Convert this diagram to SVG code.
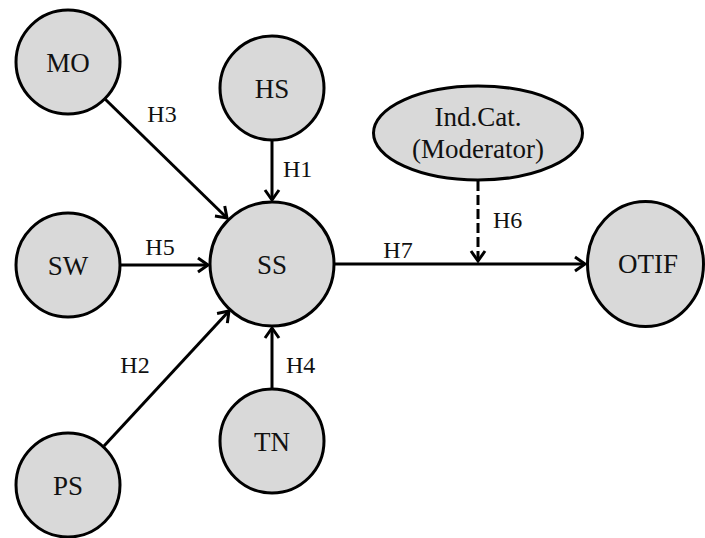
<svg xmlns="http://www.w3.org/2000/svg" width="705" height="538" viewBox="0 0 705 538">
<style>
.node{fill:#d9d9d9;stroke:#000;stroke-width:3}
.nt{font-size:27px;fill:#111;text-anchor:middle}
.et{font-size:24px;fill:#111}
.edge{stroke:#000;stroke-width:3;fill:none}
.dash{stroke-dasharray:10 4}
</style>
<defs>
<marker id="ah" viewBox="-12 -9 14 18" refX="0" refY="0" markerWidth="14" markerHeight="18" markerUnits="userSpaceOnUse" orient="auto" overflow="visible">
<path d="M-10,-7 L0,0 L-10,7" fill="none" stroke="#000" stroke-width="3"/>
</marker>
</defs>
<rect width="705" height="538" fill="#fff"/>
<g id="connectors">
<line class="edge" x1="105" y1="99" x2="227" y2="218" marker-end="url(#ah)"/>
<line class="edge" x1="272" y1="140" x2="272" y2="200" marker-end="url(#ah)"/>
<line class="edge" x1="120" y1="265" x2="208" y2="265" marker-end="url(#ah)"/>
<line class="edge" x1="104" y1="446" x2="229" y2="311" marker-end="url(#ah)"/>
<line class="edge" x1="272" y1="389" x2="272" y2="328" marker-end="url(#ah)"/>
<line class="edge" x1="334" y1="264" x2="585" y2="264" marker-end="url(#ah)"/>
<line class="edge dash" x1="478" y1="181" x2="478" y2="261" marker-end="url(#ah)"/>
<text class="et" font-family="Liberation Serif" x="162" y="122" text-anchor="middle">H3</text>
<text class="et" font-family="Liberation Serif" x="283" y="177">H1</text>
<text class="et" font-family="Liberation Serif" x="160" y="255" text-anchor="middle">H5</text>
<text class="et" font-family="Liberation Serif" x="135" y="373" text-anchor="middle">H2</text>
<text class="et" font-family="Liberation Serif" x="286" y="373">H4</text>
<text class="et" font-family="Liberation Serif" x="398" y="258" text-anchor="middle">H7</text>
<text class="et" font-family="Liberation Serif" x="493" y="228">H6</text>
</g>
<g id="node-MO"><circle class="node" cx="68" cy="62" r="52"/><text class="nt" font-family="Liberation Serif" x="68" y="72">MO</text></g>
<g id="node-HS"><circle class="node" cx="272" cy="88" r="52"/><text class="nt" font-family="Liberation Serif" x="272" y="98">HS</text></g>
<g id="node-SW"><circle class="node" cx="68" cy="265" r="52"/><text class="nt" font-family="Liberation Serif" x="68" y="275">SW</text></g>
<g id="node-SS"><circle class="node" cx="272" cy="264" r="62"/><text class="nt" font-family="Liberation Serif" x="272" y="274">SS</text></g>
<g id="node-PS"><circle class="node" cx="68" cy="485" r="52"/><text class="nt" font-family="Liberation Serif" x="68" y="495">PS</text></g>
<g id="node-TN"><circle class="node" cx="272" cy="441" r="52"/><text class="nt" font-family="Liberation Serif" x="272" y="451">TN</text></g>
<g id="node-OTIF"><ellipse class="node" cx="645.5" cy="264" rx="58" ry="62.5"/><text class="nt" font-family="Liberation Serif" x="648" y="273">OTIF</text></g>
<g id="node-IndCat"><ellipse class="node" cx="478" cy="133" rx="104.5" ry="47"/><text class="nt" font-family="Liberation Serif" x="478" y="126">Ind.Cat.</text><text class="nt" font-family="Liberation Serif" x="478" y="158">(Moderator)</text></g>
</svg>
